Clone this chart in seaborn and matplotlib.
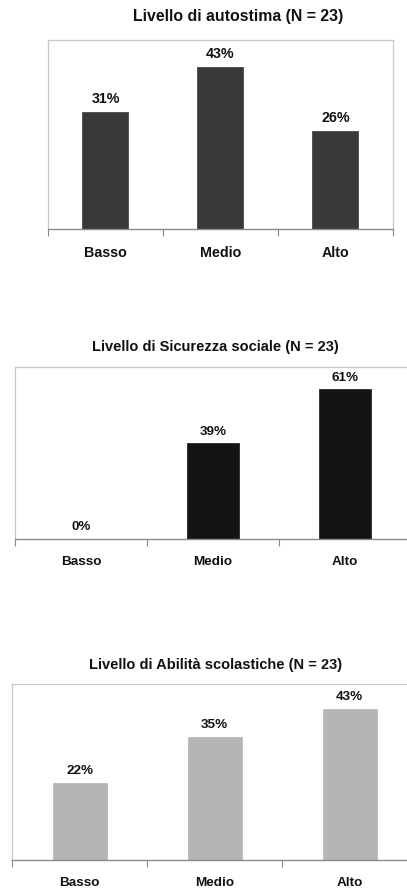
import matplotlib
matplotlib.use("Agg")
import matplotlib.pyplot as plt
import seaborn as sns
import pandas as pd

sns.set_theme(style="white")
plt.rcParams["font.family"] = ["Liberation Sans", "DejaVu Sans"]
plt.rcParams["font.weight"] = "bold"

categories = ["Basso", "Medio", "Alto"]

autostima = [31, 43, 26]
sicurezza_sociale = [0, 39, 61]
abilita_scolastiche = [22, 35, 43]

titles = [
    "Livello di autostima (N = 23)",
    "Livello di Sicurezza sociale (N = 23)",
    "Livello di Abilità scolastiche (N = 23)",
]
colors = ["#393939", "#141414", "#b5b5b5"]
y_limits = [50, 70, 50]

W, H = 407, 888

# axes rectangles in figure fractions: left, bottom, width, height
rects = [
    [0.1179, 0.7421, 0.8477, 0.2128],
    [0.0369, 0.3930, 0.9730, 0.1937],
    [0.0295, 0.0315, 0.9951, 0.1982],
]
# title centres in pixels (x, y from top)
title_pos = [(238, 17), (215, 347), (216, 665)]
sizes = [
    dict(title=11.4, tick=10.3, value=10.3, pad=12),
    dict(title=10.5, tick=9.7, value=9.7, pad=12.5),
    dict(title=10.5, tick=9.7, value=9.7, pad=12.0),
]

fig = plt.figure(figsize=(W / 100, H / 100), dpi=100)
fig.patch.set_facecolor("white")

for values, title, color, ymax, rect, tpos, sz in zip(
    [autostima, sicurezza_sociale, abilita_scolastiche],
    titles, colors, y_limits, rects, title_pos, sizes,
):
    ax = fig.add_axes(rect)
    df = pd.DataFrame({"livello": categories, "percentuale": values})
    sns.barplot(data=df, x="livello", y="percentuale", color=color,
                width=0.4, saturation=1, ax=ax, edgecolor=color, linewidth=0.5)
    ax.set_xlim(-0.5, len(categories) - 0.5)
    ax.set_ylim(0, ymax)
    ax.set_xlabel("")
    ax.set_ylabel("")
    ax.set_yticks([])

    # category labels centred, tick marks at category boundaries
    ax.set_xticks(range(len(categories)))
    ax.set_xticklabels(categories, fontsize=sz["tick"], fontweight="bold",
                       color="#111111")
    ax.tick_params(axis="x", which="major", length=0, pad=sz["pad"])
    ax.set_xticks([i - 0.5 for i in range(len(categories) + 1)], minor=True)
    ax.tick_params(axis="x", which="minor", bottom=True, direction="out",
                   length=5, width=0.8, color="#888888")

    for side in ["left", "top", "right"]:
        ax.spines[side].set_color("#c8c8c8")
        ax.spines[side].set_linewidth(0.9)
    ax.spines["bottom"].set_color("#8a8a8a")
    ax.spines["bottom"].set_linewidth(1.0)

    for i, v in enumerate(values):
        ax.annotate(f"{v}%", (i, v), xytext=(0, 4), textcoords="offset points",
                    ha="center", va="bottom", fontsize=sz["value"],
                    fontweight="bold", color="#111111")

    fig.text(tpos[0] / W, 1 - tpos[1] / H, title, ha="center", va="center",
             fontsize=sz["title"], fontweight="bold", color="#111111")

fig.savefig("out.png", dpi=100, facecolor="white")
